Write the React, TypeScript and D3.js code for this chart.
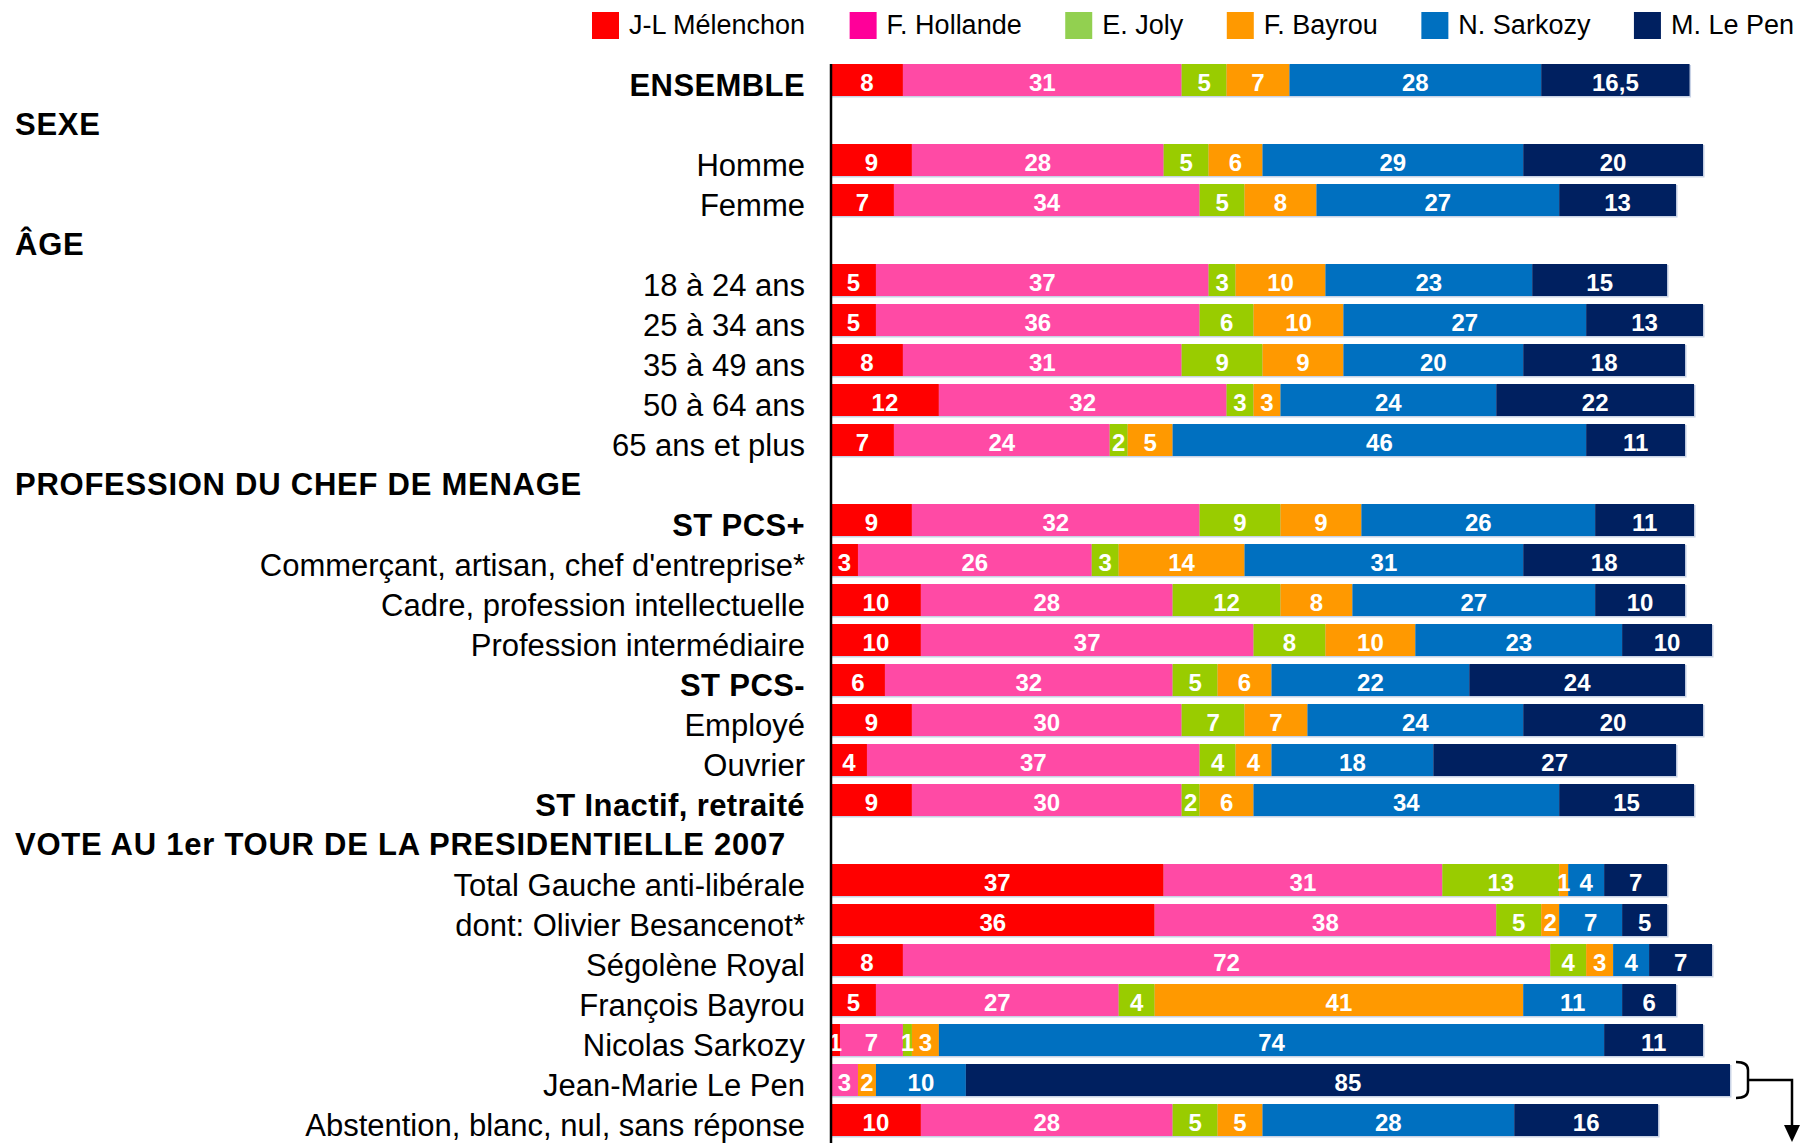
import React from "react";
import * as d3 from "d3";

const rowLabels = [
  "ENSEMBLE", "SEXE", "Homme", "Femme", "ÂGE", "18 à 24 ans", "25 à 34 ans", "35 à 49 ans",
  "50 à 64 ans", "65 ans et plus", "PROFESSION DU CHEF DE MENAGE", "ST PCS+",
  "Commerçant, artisan, chef d'entreprise*", "Cadre, profession intellectuelle",
  "Profession intermédiaire", "ST PCS-", "Employé", "Ouvrier", "ST Inactif, retraité",
  "VOTE AU 1er TOUR DE LA PRESIDENTIELLE 2007", "Total Gauche anti-libérale",
  "dont: Olivier Besancenot*", "Ségolène Royal", "François Bayrou", "Nicolas Sarkozy",
  "Jean-Marie Le Pen", "Abstention, blanc, nul, sans réponse",
];
const rowKinds = [
  "bold", "header", "normal", "normal", "header", "normal", "normal", "normal",
  "normal", "normal", "header", "bold",
  "normal", "normal", "normal", "bold", "normal", "normal", "bold",
  "header", "normal", "normal", "normal", "normal", "normal", "normal", "normal",
];

const seriesNames = ["J-L Mélenchon", "F. Hollande", "E. Joly", "F. Bayrou", "N. Sarkozy", "M. Le Pen"];
const barColors = ["#FF0000", "#FF4AA5", "#99CC00", "#FF9900", "#0070C0", "#002060"];
const legendColors = ["#FF0000", "#FF0099", "#92D050", "#FF9900", "#0070C0", "#002060"];

const melenchon = [8, 9, 7, 5, 5, 8, 12, 7, 9, 3, 10, 10, 6, 9, 4, 9, 37, 36, 8, 5, 1, 0, 10];
const hollande = [31, 28, 34, 37, 36, 31, 32, 24, 32, 26, 28, 37, 32, 30, 37, 30, 31, 38, 72, 27, 7, 3, 28];
const joly = [5, 5, 5, 3, 6, 9, 3, 2, 9, 3, 12, 8, 5, 7, 4, 2, 13, 5, 4, 4, 1, 0, 5];
const bayrou = [7, 6, 8, 10, 10, 9, 3, 5, 9, 14, 8, 10, 6, 7, 4, 6, 1, 2, 3, 41, 3, 2, 5];
const sarkozy = [28, 29, 27, 23, 27, 20, 24, 46, 26, 31, 27, 23, 22, 24, 18, 34, 4, 7, 4, 11, 74, 10, 28];
const lepen = [16.5, 20, 13, 15, 13, 18, 22, 11, 11, 18, 10, 10, 24, 20, 27, 15, 7, 5, 7, 6, 11, 85, 16];

const series = [melenchon, hollande, joly, bayrou, sarkozy, lepen];

const W = 1809;
const H = 1143;
const FONT = "'Liberation Sans', Arial, Helvetica, sans-serif";

function measure(text: string, font: string): number {
  const c = document.createElement("canvas");
  const ctx = c.getContext("2d");
  if (!ctx) return text.length * 13;
  ctx.font = font;
  return ctx.measureText(text).width;
}

export default function App() {
  const x = d3.scaleLinear().domain([0, 100]).range([831, 1730]);
  const y = d3
    .scaleBand<number>()
    .domain(d3.range(rowLabels.length))
    .range([60, 60 + rowLabels.length * 40])
    .paddingInner(0.2)
    .paddingOuter(0.1);

  const dataRowIdx = rowKinds.map((k, i) => (k === "header" ? -1 : i)).filter((i) => i >= 0);

  const stackData = dataRowIdx.map((ri, j) => {
    const obj: any = { row: ri };
    seriesNames.forEach((s, k) => (obj[s] = series[k][j]));
    return obj;
  });
  const stacked = d3.stack<any>().keys(seriesNames)(stackData);

  // legend layout
  const legendFont = `27px ${FONT}`;
  const sq = 27;
  const textOff = 37;
  const widths = seriesNames.map((n) => textOff + measure(n, legendFont));
  const legStart = 592;
  const legEnd = 1794;
  const gap = (legEnd - legStart - d3.sum(widths)) / (seriesNames.length - 1);
  const legX: number[] = [];
  let cur = legStart;
  widths.forEach((w) => {
    legX.push(cur);
    cur += w + gap;
  });

  const fmt = (v: number) => String(v).replace(".", ",");
  const bw = y.bandwidth();

  // Le Pen row bracket
  const lpIdx = rowLabels.indexOf("Jean-Marie Le Pen");
  const lpJ = dataRowIdx.indexOf(lpIdx);
  const lpEnd = x(d3.sum(series, (s) => s[lpJ]));
  const lpTop = (y(lpIdx) as number) - 2;
  const lpBot = (y(lpIdx) as number) + bw + 2;
  const lpMid = (lpTop + lpBot) / 2;
  const bx0 = lpEnd + 6;
  const bx1 = lpEnd + 22;
  const arrowX = 1792;

  return (
    <svg
      width={W}
      height={H}
      style={{ position: "absolute", left: 0, top: 0, background: "#fff" }}
      fontFamily={FONT}
    >
      {/* legend */}
      {seriesNames.map((n, k) => (
        <g key={n}>
          <rect x={legX[k]} y={12} width={sq} height={sq} fill={legendColors[k]} />
          <text x={legX[k] + textOff} y={24} dy="0.38em" fontSize={27} fill="#000">
            {n}
          </text>
        </g>
      ))}

      {/* shadow edges */}
      {stackData.map((d, j) => {
        const total = d3.sum(series, (s) => s[j]);
        const yy = y(d.row) as number;
        return (
          <rect key={"sh" + j} x={x(0)} y={yy + 1} width={x(total) - x(0) + 1.5} height={bw + 0.5} fill="#c9d3e6" />
        );
      })}

      {/* bars */}
      {stacked.map((layer, k) => (
        <g key={layer.key} fill={barColors[k]}>
          {layer.map((seg, j) => {
            const v = seg[1] - seg[0];
            if (v <= 0) return null;
            const yy = y(seg.data.row) as number;
            return <rect key={j} x={x(seg[0])} y={yy} width={x(seg[1]) - x(seg[0])} height={bw} />;
          })}
        </g>
      ))}

      {/* value labels */}
      {stacked.map((layer, k) => (
        <g key={"l" + layer.key}>
          {layer.map((seg, j) => {
            const v = seg[1] - seg[0];
            if (v <= 0) return null;
            const yy = (y(seg.data.row) as number) + bw / 2;
            return (
              <text
                key={j}
                x={(x(seg[0]) + x(seg[1])) / 2}
                y={yy}
                dy="0.46em"
                textAnchor="middle"
                fontSize={24}
                fontWeight="bold"
                fill="#fff"
              >
                {fmt(series[k][j])}
              </text>
            );
          })}
        </g>
      ))}

      {/* axis */}
      <line x1={x(0)} x2={x(0)} y1={(y(0) as number)} y2={H} stroke="#000" strokeWidth={2.5} />

      {/* category labels */}
      {rowLabels.map((lab, i) => {
        const kind = rowKinds[i];
        const cy = (y(i) as number) + bw / 2;
        if (kind === "header") {
          return (
            <text key={lab} x={15} y={cy} dy="0.48em" fontSize={31} fontWeight="bold" letterSpacing={0.75} fill="#000">
              {lab}
            </text>
          );
        }
        return (
          <text
            key={lab}
            x={805}
            y={cy}
            dy="0.5em"
            textAnchor="end"
            fontSize={31}
            fontWeight={kind === "bold" ? "bold" : "normal"}
            letterSpacing={kind === "bold" ? 0.4 : 0}
            fill="#000"
          >
            {lab}
          </text>
        );
      })}

      {/* bracket and arrow */}
      <path
        d={`M${bx0},${lpTop} Q${bx1 - 4},${lpTop} ${bx1 - 4},${lpTop + 8} L${bx1 - 4},${lpBot - 8} Q${bx1 - 4},${lpBot} ${bx0},${lpBot}`}
        fill="none"
        stroke="#000"
        strokeWidth={2.5}
      />
      <path d={`M${bx1 - 4},${lpMid} L${arrowX},${lpMid} L${arrowX},${H - 14}`} fill="none" stroke="#000" strokeWidth={2.5} />
      <path d={`M${arrowX - 8},${H - 18} L${arrowX + 8},${H - 18} L${arrowX},${H - 1} Z`} fill="#000" />
    </svg>
  );
}
